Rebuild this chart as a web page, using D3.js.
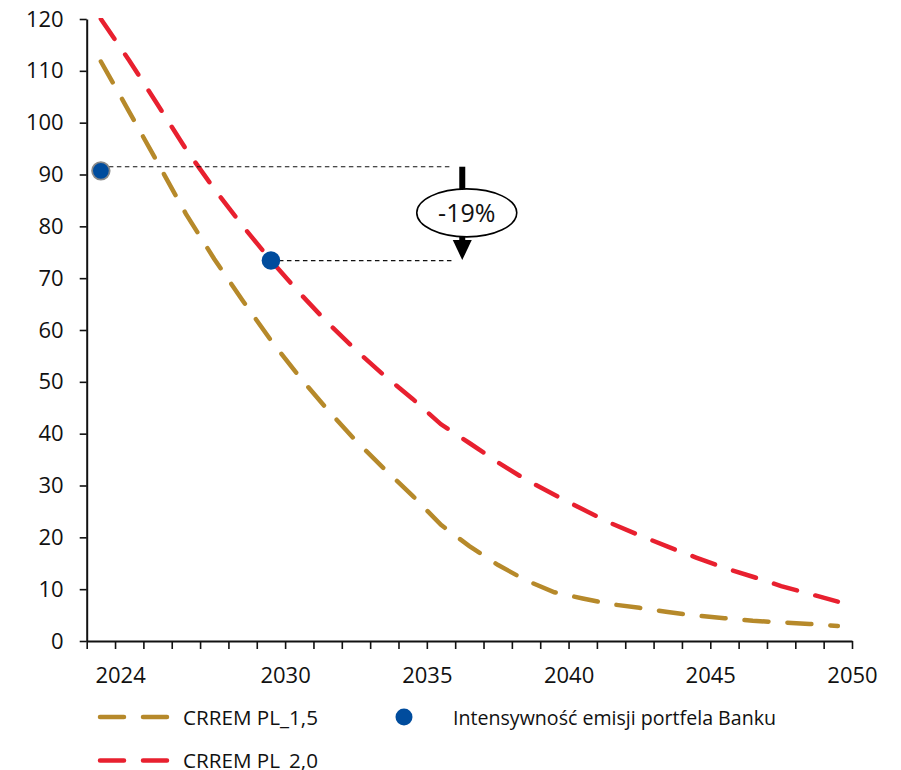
<!DOCTYPE html>
<html>
<head>
<meta charset="utf-8">
<script src="https://cdn.jsdelivr.net/npm/d3@7"></script>
<style>
  html, body { margin: 0; padding: 0; background: #fff; }
  svg { display: block; }
</style>
</head>
<body>
<svg id="chart" width="901" height="770"></svg>
<script>
// ---------- DATA ----------
const years = [2024, 2025, 2026, 2027, 2028, 2029, 2030, 2031, 2032, 2033, 2034, 2035, 2036, 2037,
               2038, 2039, 2040, 2041, 2042, 2043, 2044, 2045, 2046, 2047, 2048, 2049, 2050];
const crrem15 = [111.8, 102.1, 92.3, 82.4, 73.7, 65.7, 58.0, 51.0, 44.6, 38.6, 33.2, 28.0, 22.4, 18.3,
                 14.7, 11.7, 9.4, 8.2, 7.1, 6.4, 5.6, 4.9, 4.4, 3.9, 3.6, 3.3, 2.9];
const crrem20 = [120.0, 112.0, 103.5, 94.9, 87.2, 80.1, 73.4, 67.2, 61.4, 56.1, 51.2, 46.7, 41.8, 38.2,
                 34.5, 31.1, 28.2, 25.4, 22.7, 20.4, 18.2, 16.1, 14.1, 12.4, 10.6, 9.1, 7.6];
const bankYears = [2024, 2030];
const bankValues = [90.7, 73.4];
const changeLabel = "-19%";
const yTicks = [0, 10, 20, 30, 40, 50, 60, 70, 80, 90, 100, 110, 120];
const xTickYears = [2023, 2024, 2025, 2026, 2027, 2028, 2029, 2030, 2031, 2032, 2033, 2034, 2035, 2036,
                    2037, 2038, 2039, 2040, 2041, 2042, 2043, 2044, 2045, 2046, 2047, 2048, 2049, 2050];
const xTickLabels = [2024, 2030, 2035, 2040, 2045, 2050];
const seriesNames = ["CRREM PL_1,5", "CRREM PL_2,0", "Intensywność emisji portfela Banku"];

// ---------- STYLE ----------
const GOLD = "#B6892A", RED = "#E8202F", BLUE = "#004C9D";
const svg = d3.select("#chart");
const mLeft = 86.7, mRight = 852, mTop = 19, mBottom = 641;

const x = d3.scaleLinear().domain([2023, 2050]).range([mLeft, mRight]);
const y = d3.scaleLinear().domain([0, 120]).range([mBottom, mTop]);
// each year's value sits in the middle of its yearly slot
const px = yr => x(yr - 0.5);

svg.append("defs").append("clipPath").attr("id", "plotclip")
  .append("rect").attr("x", mLeft).attr("y", mTop - 1).attr("width", mRight - mLeft + 10).attr("height", mBottom - mTop + 1);

// ---------- AXES ----------
const fontAxis = "'Open Sans', sans-serif";
const yAxis = svg.append("g").attr("transform", `translate(${mLeft},0)`)
  .call(d3.axisLeft(y).tickValues(yTicks).tickSize(7).tickPadding(16).tickSizeOuter(0));
const xAxis = svg.append("g").attr("transform", `translate(0,${mBottom})`)
  .call(d3.axisBottom(x).tickValues(xTickYears).tickSize(8).tickPadding(18).tickSizeOuter(0)
    .tickFormat(d => xTickLabels.includes(d) ? String(d) : ""));
[yAxis, xAxis].forEach(g => {
  g.selectAll("text").attr("font-family", fontAxis).attr("font-size", 22).attr("fill", "#111");
  g.selectAll(".tick line").attr("stroke", "#111").attr("stroke-width", 1.6);
  g.select(".domain").attr("stroke", "#111").attr("stroke-width", 2);
});
xAxis.selectAll(".tick text").filter(d => d === 2024).attr("dx", 5);

// ---------- LINES ----------
const plot = svg.append("g").attr("clip-path", "url(#plotclip)");
const line = d3.line().x((d, i) => px(years[i])).y(d => y(d));
plot.append("path").datum(crrem15).attr("d", line)
  .attr("fill", "none").attr("stroke", GOLD).attr("stroke-width", 4.5)
  .attr("stroke-linecap", "round").attr("stroke-dasharray", "24,19");
plot.append("path").datum(crrem20).attr("d", line)
  .attr("fill", "none").attr("stroke", RED).attr("stroke-width", 4.5)
  .attr("stroke-linecap", "round").attr("stroke-dasharray", "24,19");

// ---------- ANNOTATION ----------
const arrowYear = 2036.25;
const annoTop = 91.5;
const connectorValues = [annoTop, bankValues[1]];
connectorValues.forEach((v, i) => {
  svg.append("line")
    .attr("x1", px(bankYears[i]) + 8).attr("x2", x(2035.9))
    .attr("y1", y(v)).attr("y2", y(v))
    .attr("stroke", "#111").attr("stroke-width", 1.2).attr("stroke-dasharray", "4.5,3.5");
});
const ax = x(arrowYear);
const tipY = y(bankValues[1]) - 0.5;
svg.append("line").attr("x1", ax).attr("x2", ax)
  .attr("y1", y(annoTop)).attr("y2", tipY - 18)
  .attr("stroke", "#000").attr("stroke-width", 6);
svg.append("path")
  .attr("d", `M${ax - 9.5},${tipY - 20} L${ax + 9.5},${tipY - 20} L${ax},${tipY} Z`)
  .attr("fill", "#000");
const ecx = ax + 4.5, ecy = y(82.6);
svg.append("ellipse").attr("cx", ecx).attr("cy", ecy).attr("rx", 50).attr("ry", 24)
  .attr("fill", "#fff").attr("stroke", "#000").attr("stroke-width", 1.6);
svg.append("text").attr("x", ecx).attr("y", ecy + 9).attr("text-anchor", "middle")
  .attr("font-family", fontAxis).attr("font-size", 25).attr("font-weight", 500).attr("fill", "#111")
  .text(changeLabel);

// ---------- BANK POINTS ----------
svg.selectAll("circle.bank").data(bankValues).join("circle").attr("class", "bank")
  .attr("cx", (d, i) => px(bankYears[i])).attr("cy", d => y(d))
  .attr("r", (d, i) => i === 0 ? 8.8 : 9.3)
  .attr("fill", BLUE)
  .attr("stroke", (d, i) => i === 0 ? "#8a8a8a" : "none")
  .attr("stroke-width", 1.8);

// ---------- LEGEND ----------
const fontLeg = "'Open Sans', sans-serif";
const legRows = [717, 760.5];
const legItems = [
  { name: seriesNames[0], color: GOLD, row: 0, width: 135 },
  { name: seriesNames[1], color: RED, row: 1, width: 135 }
];
legItems.forEach(it => {
  const ly = legRows[it.row];
  svg.append("line").attr("x1", 100).attr("x2", 170).attr("y1", ly).attr("y2", ly)
    .attr("stroke", it.color).attr("stroke-width", 4.5).attr("stroke-linecap", "round")
    .attr("stroke-dasharray", "24,19");
  svg.append("text").attr("x", 183).attr("y", ly + 7.5)
    .attr("font-family", fontLeg).attr("font-size", 20).attr("fill", "#111")
    .attr("textLength", it.width).attr("lengthAdjust", "spacingAndGlyphs")
    .text(it.name);
});
svg.append("circle").attr("cx", 404).attr("cy", legRows[0]).attr("r", 8.5).attr("fill", BLUE);
svg.append("text").attr("x", 453).attr("y", legRows[0] + 7.5)
  .attr("font-family", fontLeg).attr("font-size", 20).attr("fill", "#111")
  .attr("textLength", 323).attr("lengthAdjust", "spacingAndGlyphs")
  .text(seriesNames[2]);
</script>
</body>
</html>
